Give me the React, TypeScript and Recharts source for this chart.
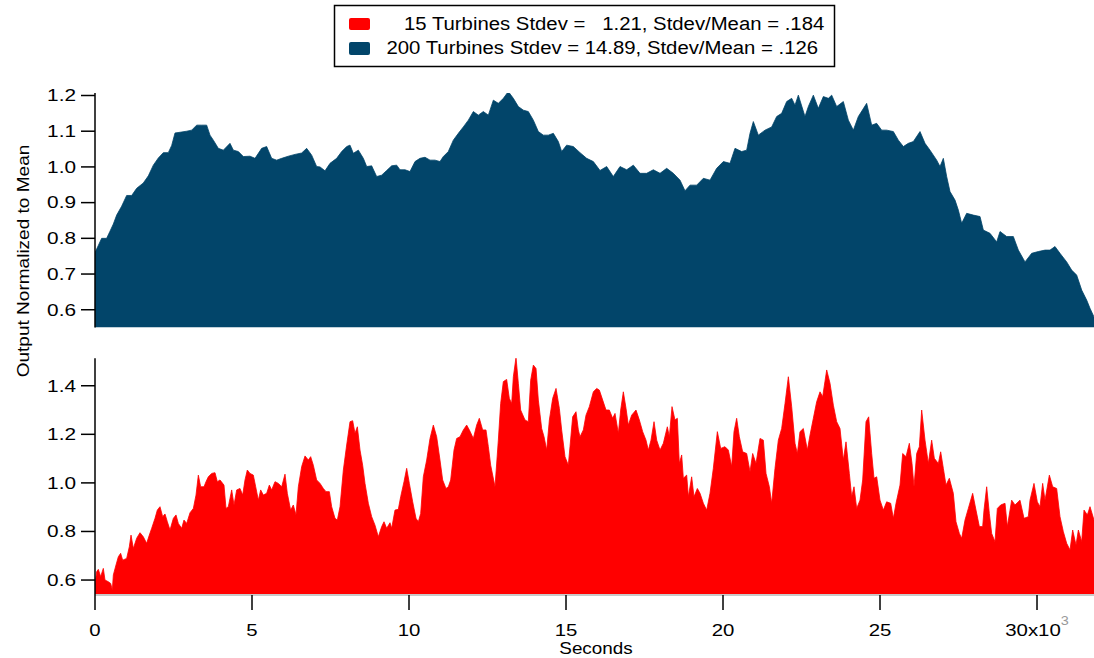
import React from "react";
import { AreaChart, Area, XAxis, YAxis } from "recharts";

// 200 turbines (top panel), seconds / normalized output
const blueT = [
  0, 106, 212, 371, 478, 584, 690, 849, 1008, 1168, 1327, 1539, 1699, 1858, 2017, 2176, 2335, 2442, 2548, 2707,
  2919, 3079, 3238, 3397, 3556, 3662, 3769, 3928, 4087, 4299, 4406, 4565, 4724, 4936, 5096, 5308, 5467, 5626, 5785, 5945,
  6157, 6369, 6582, 6741, 6900, 7059, 7166, 7325, 7484, 7696, 7856, 8015, 8121, 8227, 8386, 8546, 8652, 8811, 8970, 9130,
  9289, 9448, 9607, 9713, 9873, 10032, 10191, 10350, 10510, 10669, 10828, 10987, 11093, 11252, 11412, 11571, 11730, 11890, 12049, 12208,
  12367, 12527, 12686, 12845, 13004, 13163, 13323, 13482, 13641, 13800, 13960, 14119, 14278, 14437, 14597, 14756, 14862, 15021, 15233, 15446,
  15658, 15870, 16083, 16295, 16507, 16720, 16932, 17144, 17357, 17569, 17781, 17994, 18206, 18418, 18631, 18790, 18949, 19161, 19374, 19586,
  19798, 20011, 20223, 20382, 20594, 20754, 20860, 20966, 21125, 21338, 21550, 21709, 21868, 22028, 22187, 22293, 22399, 22611, 22718, 22877,
  23036, 23195, 23355, 23461, 23620, 23832, 23992, 24151, 24310, 24575, 24735, 24894, 25053, 25212, 25425, 25584, 25743, 25902, 26062, 26274,
  26433, 26592, 26805, 26911, 27017, 27123, 27229, 27389, 27495, 27601, 27760, 27972, 28185, 28291, 28503, 28716, 28822, 29034, 29246, 29406,
  29618, 29830, 30042, 30255, 30414, 30573, 30732, 30945, 31104, 31263, 31423, 31582, 31688, 31815,
];
const blueV = [
  0.76, 0.78, 0.8, 0.8, 0.82, 0.84, 0.865, 0.89, 0.92, 0.92, 0.94, 0.955, 0.975, 1.005, 1.025, 1.04, 1.04, 1.06, 1.095, 1.097,
  1.1, 1.103, 1.117, 1.117, 1.117, 1.089, 1.075, 1.052, 1.047, 1.066, 1.047, 1.043, 1.029, 1.03, 1.024, 1.052, 1.057, 1.024, 1.019, 1.024,
  1.03, 1.035, 1.039, 1.052, 1.033, 1.001, 1.0, 0.989, 1.01, 1.024, 1.043, 1.057, 1.061, 1.038, 1.047, 1.024, 1.001, 1.003, 0.973, 0.977,
  0.99, 1.003, 1.005, 0.992, 0.992, 0.987, 1.015, 1.024, 1.027, 1.019, 1.019, 1.015, 1.029, 1.043, 1.075, 1.094, 1.112, 1.131, 1.155, 1.145,
  1.155, 1.145, 1.187, 1.178, 1.192, 1.211, 1.192, 1.169, 1.159, 1.155, 1.131, 1.099, 1.089, 1.089, 1.094, 1.071, 1.043, 1.061, 1.057, 1.04,
  1.024, 1.015, 0.99, 1.001, 0.973, 1.001, 0.992, 1.005, 0.982, 0.982, 0.992, 0.982, 0.996, 0.982, 0.963, 0.933, 0.949, 0.949, 0.968, 0.963,
  0.996, 1.015, 1.01, 1.052, 1.043, 1.047, 1.094, 1.127, 1.089, 1.103, 1.112, 1.141, 1.15, 1.183, 1.192, 1.173, 1.201, 1.141, 1.169, 1.201,
  1.164, 1.197, 1.192, 1.201, 1.169, 1.183, 1.131, 1.103, 1.141, 1.178, 1.117, 1.122, 1.103, 1.103, 1.099, 1.075, 1.057, 1.066, 1.071, 1.099,
  1.066, 1.047, 1.019, 1.001, 1.024, 0.973, 0.931, 0.907, 0.879, 0.842, 0.87, 0.865, 0.861, 0.823, 0.814, 0.79, 0.819, 0.805, 0.805, 0.767,
  0.734, 0.758, 0.763, 0.767, 0.767, 0.777, 0.758, 0.734, 0.711, 0.697, 0.655, 0.627, 0.604, 0.58,
];

// 15 turbines (bottom panel)
const redT = [
  0, 53, 106, 180, 265, 318, 425, 499, 552, 584, 669, 743, 817, 881, 1008, 1093, 1147, 1221, 1327, 1433,
  1539, 1645, 1730, 1805, 1911, 1985, 2070, 2155, 2229, 2304, 2389, 2495, 2580, 2654, 2760, 2834, 2919, 3026, 3132, 3217,
  3291, 3365, 3471, 3535, 3609, 3716, 3822, 3896, 3981, 4108, 4172, 4246, 4353, 4427, 4512, 4618, 4703, 4777, 4851, 4936,
  5042, 5117, 5202, 5276, 5361, 5467, 5552, 5626, 5732, 5839, 5945, 6051, 6125, 6231, 6316, 6401, 6476, 6582, 6688, 6794,
  6868, 6953, 7059, 7166, 7272, 7357, 7463, 7537, 7643, 7718, 7803, 7909, 8015, 8121, 8206, 8280, 8355, 8440, 8524, 8599,
  8705, 8811, 8917, 9023, 9130, 9204, 9289, 9395, 9448, 9554, 9660, 9735, 9841, 9926, 10011, 10117, 10223, 10297, 10372, 10456,
  10563, 10669, 10775, 10881, 10987, 11072, 11178, 11253, 11327, 11433, 11518, 11624, 11731, 11837, 11922, 12049, 12155, 12240, 12346, 12452,
  12527, 12601, 12739, 12845, 12919, 13004, 13110, 13195, 13270, 13323, 13408, 13482, 13556, 13694, 13800, 13875, 13960, 14045, 14119, 14225,
  14300, 14385, 14470, 14576, 14682, 14788, 14862, 14968, 15074, 15127, 15212, 15318, 15393,
  15446, 15552, 15637, 15743, 15871, 15977, 16062, 16168, 16274, 16380, 16486, 16561, 16667, 16741, 16826, 16911, 16985, 17091, 17229, 17336,
  17442, 17548, 17622, 17707, 17803, 17888, 17994, 18100, 18227, 18291, 18376, 18471, 18546, 18609, 18684, 18737, 18843, 18897, 19002, 19076,
  19183, 19268, 19374, 19480, 19586, 19692, 19820, 19926, 20064, 20170, 20276, 20350, 20435, 20520, 20626, 20754, 20860, 20945, 21051, 21178,
  21285, 21370, 21476, 21550, 21656, 21762, 21868, 21975, 22081, 22187, 22293, 22367, 22452, 22558, 22686, 22771, 22877, 22983, 23089, 23174,
  23302, 23408, 23514, 23620, 23726, 23832, 23917, 24023, 24098, 24172, 24257, 24363, 24448, 24554, 24639, 24735, 24809, 24894, 25000, 25106,
  25212, 25340, 25425, 25510, 25637, 25722, 25828, 25934, 26019, 26083, 26168, 26253, 26327, 26433, 26539, 26645, 26730, 26858, 26932, 27017,
  27102, 27208, 27335, 27420, 27527, 27601, 27707, 27813, 27951, 28057, 28164, 28270, 28312, 28397, 28482, 28556, 28662, 28737, 28843, 28981,
  29055, 29193, 29299, 29458, 29586, 29724, 29777, 29904, 30010, 30095, 30180, 30255, 30393, 30499, 30626, 30732, 30839, 30945, 31051, 31136,
  31242, 31317, 31423, 31497, 31603, 31688, 31815,
];
const redV = [
  0.586, 0.634, 0.644, 0.614, 0.648, 0.6, 0.593, 0.586, 0.559, 0.621, 0.662, 0.696, 0.71, 0.682, 0.689, 0.737, 0.785, 0.73, 0.772, 0.795,
  0.778, 0.751, 0.785, 0.813, 0.854, 0.888, 0.902, 0.861, 0.872, 0.84, 0.806, 0.854, 0.868, 0.833, 0.813, 0.847, 0.833, 0.877, 0.895, 0.95,
  1.032, 0.984, 0.984, 1.005, 1.025, 1.039, 1.042, 1.005, 1.012, 0.991, 0.895, 0.902, 0.971, 0.909, 0.971, 0.977, 0.95, 1.012, 1.053, 1.039,
  1.032, 0.984, 0.929, 0.971, 0.95, 0.957, 0.991, 0.971, 1.005, 0.998, 0.984, 1.036, 0.957, 0.888, 0.909, 0.868, 0.984, 1.067, 1.111, 1.094,
  1.108, 1.073, 1.012, 0.998, 0.977, 0.964, 0.964, 0.902, 0.854, 0.847, 0.902, 1.053, 1.156, 1.252, 1.256, 1.204, 1.231, 1.135, 1.073, 0.998,
  0.916, 0.861, 0.826, 0.778, 0.82, 0.84, 0.813, 0.836, 0.813, 0.888, 0.891, 0.943, 1.005, 1.06, 0.998, 0.922, 0.854, 0.84, 0.874, 1.025,
  1.094, 1.183, 1.238, 1.19, 1.094, 1.012, 0.977, 0.984, 1.012, 1.135, 1.183, 1.19, 1.218, 1.238, 1.218, 1.183, 1.238, 1.266, 1.218, 1.218,
  1.149, 1.073, 0.984, 1.176, 1.327, 1.417, 1.426, 1.348, 1.327, 1.437, 1.517, 1.41, 1.3, 1.259, 1.252, 1.423, 1.485, 1.471, 1.341, 1.224,
  1.19, 1.135, 1.259, 1.348, 1.389, 1.307, 1.218, 1.108, 1.073, 1.149, 1.272, 1.293, 1.218,
  1.19, 1.218, 1.279, 1.314, 1.375, 1.389, 1.382, 1.341, 1.3, 1.3, 1.266, 1.286, 1.204, 1.3, 1.375, 1.307, 1.238, 1.279, 1.3, 1.259,
  1.211, 1.176, 1.135, 1.176, 1.252, 1.176, 1.135, 1.163, 1.231, 1.19, 1.314, 1.259, 1.266, 1.08, 1.115, 1.019, 1.032, 0.943, 1.025, 0.943,
  0.977, 0.957, 0.916, 0.888, 0.957, 1.06, 1.211, 1.142, 1.149, 1.135, 1.067, 1.211, 1.266, 1.19, 1.128, 1.121, 1.046, 1.121, 1.08, 1.183,
  1.176, 1.039, 0.984, 0.916, 1.06, 1.176, 1.224, 1.327, 1.437, 1.314, 1.163, 1.121, 1.211, 1.224, 1.135, 1.197, 1.266, 1.334, 1.375, 1.355,
  1.465, 1.41, 1.32, 1.252, 1.224, 1.094, 1.169, 1.039, 0.943, 0.984, 0.895, 0.929, 1.012, 1.252, 1.272, 1.121, 1.019, 1.025, 0.929, 0.888,
  0.922, 0.916, 0.854, 0.916, 0.991, 1.121, 1.108, 1.163, 1.08, 0.984, 1.121, 1.149, 1.3, 1.176, 1.08, 1.176, 1.101, 1.08, 1.128, 1.06,
  0.991, 1.019, 0.957, 0.84, 0.792, 0.772, 0.847, 0.895, 0.957, 0.888, 0.82, 0.82, 0.888, 0.984, 0.874, 0.792, 0.758, 0.895, 0.909, 0.916,
  0.82, 0.929, 0.909, 0.929, 0.854, 0.861, 0.929, 0.998, 0.922, 0.902, 0.998, 0.929, 1.032, 0.984, 0.977, 0.861, 0.799, 0.751, 0.724, 0.806,
  0.744, 0.806, 0.758, 0.888, 0.868, 0.902, 0.847,
];

const xTicks = [0, 5000, 10000, 15000, 20000, 25000, 30000];
const topTicks = [0.6, 0.7, 0.8, 0.9, 1.0, 1.1, 1.2];
const bottomTicks = [0.6, 0.8, 1.0, 1.2, 1.4];

const blueData = blueT.map((t, i) => ({ t, v: blueV[i] }));
const redData = redT.map((t, i) => ({ t, v: redV[i] }));

const FONT = 'Arial, "Liberation Sans", sans-serif';
const BLUE = "#02456a";
const RED = "#ff0000";

function YTick(props: any) {
  const { x, y, payload } = props;
  return (
    <text
      transform={`translate(${x},${y}) scale(1.3,1)`}
      textAnchor="end"
      dy="0.36em"
      fontSize={16}
      fontFamily={FONT}
      fill="#000"
    >
      {payload.value.toFixed(1)}
    </text>
  );
}

function XTick(props: any) {
  const { x, y, payload } = props;
  const v = payload.value / 1000;
  return (
    <text
      transform={`translate(${x},${y + 24}) scale(1.2,1)`}
      textAnchor="middle"
      fontSize={17}
      fontFamily={FONT}
      fill="#000"
    >
      {v === 30 ? (
        <>
          30x10
          <tspan dy={-11} fontSize={12} fill="#999">3</tspan>
        </>
      ) : (
        String(v)
      )}
    </text>
  );
}

const axisStyle = { stroke: "#000", strokeWidth: 1.5 };

export default function App() {
  return (
    <div style={{ position: "absolute", left: 0, top: 0, width: 1094, height: 658, background: "#fff", fontFamily: FONT }}>
      <div style={{ position: "absolute", left: 0, top: 0 }}>
        <AreaChart width={1094} height={330} data={blueData} margin={{ top: 93, right: 0, bottom: 2.4, left: 35 }}>
          <XAxis dataKey="t" type="number" domain={[0, 31815]} allowDataOverflow hide />
          <YAxis
            type="number"
            domain={[0.55, 1.207]}
            allowDataOverflow
            ticks={topTicks}
            width={60}
            tickSize={14}
            tickMargin={5}
            axisLine={axisStyle}
            tickLine={axisStyle}
            tick={(p: any) => <YTick {...p} />}
          />
          <Area
            dataKey="v"
            type="linear"
            fill={BLUE}
            fillOpacity={1}
            stroke={BLUE}
            strokeWidth={0.8}
            dot={false}
            activeDot={false}
            isAnimationActive={false}
          />
        </AreaChart>
      </div>

      <div style={{ position: "absolute", left: 0, top: 330 }}>
        <AreaChart width={1094} height={328} data={redData} margin={{ top: 28.3, right: 0, bottom: 22.9, left: 35 }}>
          <XAxis
            dataKey="t"
            type="number"
            domain={[0, 31815]}
            allowDataOverflow
            ticks={xTicks}
            interval={0}
            height={40}
            tickSize={15}
            tickMargin={2}
            axisLine={{ stroke: "#c8c8c8", strokeWidth: 2 }}
            tickLine={axisStyle}
            tick={(p: any) => <XTick {...p} />}
          />
          <YAxis
            type="number"
            domain={[0.538, 1.513]}
            allowDataOverflow
            ticks={bottomTicks}
            width={60}
            tickSize={14}
            tickMargin={5}
            axisLine={axisStyle}
            tickLine={axisStyle}
            tick={(p: any) => <YTick {...p} />}
          />
          <Area
            dataKey="v"
            type="linear"
            fill={RED}
            fillOpacity={1}
            stroke={RED}
            strokeWidth={0.8}
            dot={false}
            activeDot={false}
            isAnimationActive={false}
          />
        </AreaChart>
      </div>

      <svg width={1094} height={658} style={{ position: "absolute", left: 0, top: 0, pointerEvents: "none" }}>
        {/* legend */}
        <rect x={334.5} y={5.5} width={500} height={61} fill="#fff" stroke="#000" strokeWidth={1.5} />
        <rect x={349} y={18} width={21} height={12} rx={2} fill={RED} />
        <rect x={349} y={42} width={21} height={13} rx={2} fill={BLUE} />
        <text transform="translate(404,30) scale(1.13,1)" fontSize={18} fontFamily={FONT} fill="#000" style={{ whiteSpace: "pre" }}>
          {"15 Turbines Stdev =   1.21, Stdev/Mean = .184"}
        </text>
        <text transform="translate(386.5,54) scale(1.13,1)" fontSize={18} fontFamily={FONT} fill="#000" style={{ whiteSpace: "pre" }}>
          {"200 Turbines Stdev = 14.89, Stdev/Mean = .126"}
        </text>
        {/* axis titles */}
        <text
          transform="translate(28.5,261) rotate(-90) scale(1.12,1)"
          textAnchor="middle"
          fontSize={17}
          fontFamily={FONT}
          fill="#000"
        >
          Output Normalized to Mean
        </text>
        <text transform="translate(596,654) scale(1.18,1)" textAnchor="middle" fontSize={16} fontFamily={FONT} fill="#000">
          Seconds
        </text>
      </svg>
    </div>
  );
}
